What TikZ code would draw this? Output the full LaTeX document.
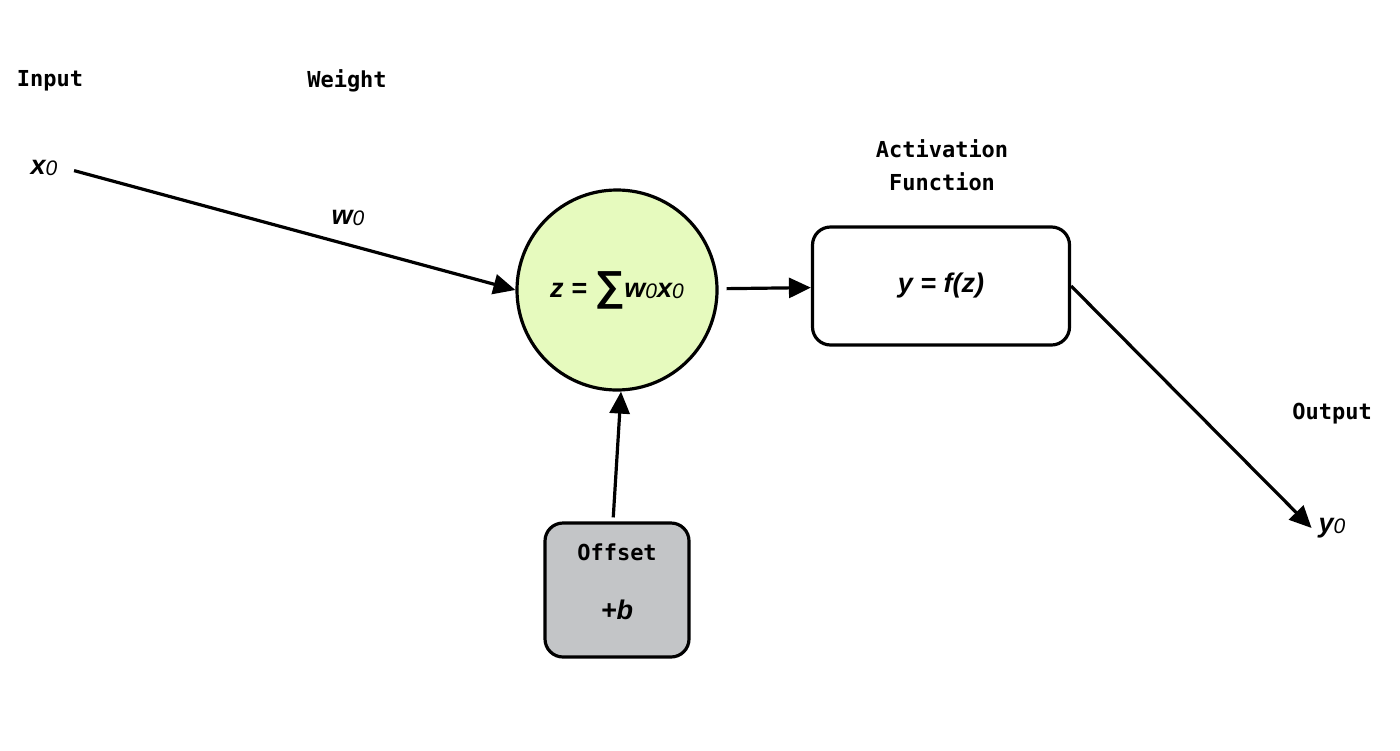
\documentclass[tikz,border=0pt]{standalone}
\usepackage{fontspec}
\setmainfont{Liberation Sans}
\newfontfamily\monofont{DejaVu Sans Mono}
\usetikzlibrary{arrows.meta}
\definecolor{sumgreen}{RGB}{230,250,190}
\definecolor{offgray}{RGB}{195,197,199}
\newcommand{\idx}[1]{{\mdseries\fontsize{10.5}{12}\selectfont\raisebox{-0.6pt}{#1}}}
\newcommand{\bigsum}{{\fontsize{21}{21}\selectfont\raisebox{-1.5pt}{∑}}}

\begin{document}
\begin{tikzpicture}[x=0.5pt,y=-0.5pt,
    tag/.style={font=\monofont\bfseries\fontsize{11}{16.5}\selectfont, align=center},
    var/.style={font=\bfseries\itshape\fontsize{13.5}{15}\selectfont},
    link/.style={line width=1.6pt, -{Triangle[length=11pt,width=10pt]}}]
  \useasboundingbox (0,0) rectangle (1400,750);

  \node[tag] (input) at (50,81) {Input};
  \node[tag] (weight) at (347,81) {Weight};
  \node[tag] (actlabel) at (942,165) {Activation\\Function};
  \node[tag] (output) at (1332,414) {Output};

  \node[var] (x0) at (44,168) {x\idx{0}};
  \node[var] (w0) at (348,218) {w\idx{0}};
  \node[var] (y0) at (1332,528) {y\idx{0}};

  \node[circle, draw, line width=1.6pt, fill=sumgreen, minimum size=100pt, inner sep=0pt, var]
    (sum) at (617,290) {z = \bigsum w\idx{0}x\idx{0}};
  \node[rectangle, draw, line width=1.6pt, rounded corners=9pt, minimum width=128.5pt,
    minimum height=59pt, var] (act) at (941,286) {y = f(z)};
  \node[rectangle, draw, line width=1.6pt, rounded corners=9pt, fill=offgray,
    minimum width=72pt, minimum height=67pt] (offset) at (617,590) {};
  \node[tag] (offsettag) at (617,552) {Offset};
  \node[var] (bias) at (617,610) {+b};

  \draw[link, shorten <=5pt] (x0.east) -- (sum.west);
  \draw[link, shorten <=4pt] (sum) -- (act);
  \draw[link, shorten <=2pt] ([xshift=-2pt]offset.north) -- ([xshift=2pt]sum.south);
  \draw[link] (act.east) -- (y0.west);
\end{tikzpicture}
\end{document}
